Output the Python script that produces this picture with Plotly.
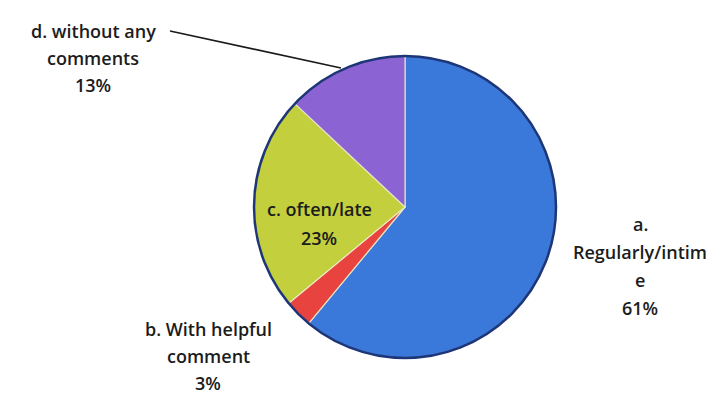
import plotly.graph_objects as go

categories = ["a. Regularly/intime", "b. With helpful comment", "c. often/late", "d. without any comments"]
values = [61, 3, 23, 13]
colors = ["#3a79d9", "#e8433f", "#c3cf3c", "#8c63d2"]

# label lines (one annotation per line to mimic the wide line spacing)
label_lines = {
    "a": ["a.", "Regularly/intim", "e", "61%"],
    "b": ["b. With helpful", "comment", "3%"],
    "c": ["c. often/late", "23%"],
    "d": ["d. without any", "comments", "13%"],
}
# (center x px, first line y px, line step px)
label_pos = {
    "a": (632, 216, 28),
    "b": (200, 321, 27),
    "c": (311, 201, 29),
    "d": (85, 23, 27),
}

W, H = 715, 396
cx, cy, r = 397, 199, 151

fig = go.Figure()
dom = dict(x=[(cx - r) / W, (cx + r) / W], y=[(H - cy - r) / H, (H - cy + r) / H])
fig.add_trace(go.Pie(
    labels=categories, values=values, sort=False, direction="clockwise", rotation=0,
    marker=dict(colors=colors, line=dict(color="rgba(235,235,200,0.9)", width=1.2)),
    textinfo="none", hoverinfo="label+percent", showlegend=False, domain=dom,
))
fig.add_trace(go.Pie(
    labels=["outline"], values=[1], sort=False,
    marker=dict(colors=["rgba(0,0,0,0)"], line=dict(color="#1d3678", width=2.5)),
    textinfo="none", hoverinfo="skip", showlegend=False, domain=dom,
))

for key, lines in label_lines.items():
    x, y0, step = label_pos[key]
    for i, t in enumerate(lines):
        fig.add_annotation(
            x=x / W, y=1 - (y0 + i * step) / H, xref="paper", yref="paper",
            text=t, showarrow=False, xanchor="center", yanchor="middle",
            font=dict(family="Open Sans", size=18, color="#1c1c1c", weight=600),
        )

# leader line for label d
fig.add_shape(type="line", xref="paper", yref="paper",
              x0=162 / W, y0=1 - 23 / H, x1=333 / W, y1=1 - 60 / H,
              line=dict(color="#1a1a1a", width=1.6))

fig.update_layout(width=W, height=H, margin=dict(l=0, r=0, t=0, b=0),
                  paper_bgcolor="white", plot_bgcolor="white")
fig.write_html("out.html")
